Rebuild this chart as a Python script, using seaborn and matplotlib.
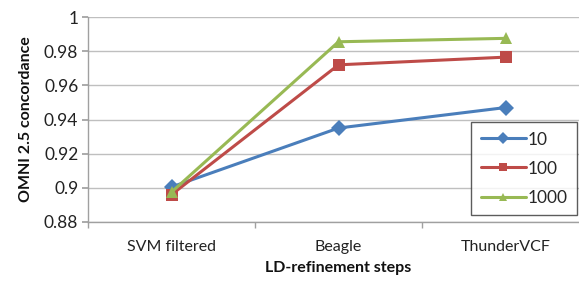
import matplotlib
matplotlib.use("Agg")
import matplotlib.pyplot as plt
import seaborn as sns
import pandas as pd
from matplotlib.ticker import FixedLocator

categories = ["SVM filtered", "Beagle", "ThunderVCF"]
series_names = ["10", "100", "1000"]
values_10 = [0.9005, 0.935, 0.947]
values_100 = [0.896, 0.972, 0.9765]
values_1000 = [0.8975, 0.9855, 0.9875]
y_ticks = [0.88, 0.90, 0.92, 0.94, 0.96, 0.98, 1.0]
y_tick_labels = ["0.88", "0.9", "0.92", "0.94", "0.96", "0.98", "1"]

rows = []
for name, vals in zip(series_names, [values_10, values_100, values_1000]):
    for c, v in zip(categories, vals):
        rows.append({"step": c, "value": v, "series": name})
df = pd.DataFrame(rows)

sns.set_theme(style="white")
plt.rcParams["font.family"] = ["Lato", "DejaVu Sans"]

fig = plt.figure(figsize=(5.79, 2.82), dpi=100)
ax = fig.add_axes([88 / 579, 1 - 222 / 282, (589 - 88) / 579, (222 - 17) / 282])

palette = {"10": "#4A7EBB", "100": "#BE4B48", "1000": "#98B954"}
markers = {"10": "D", "100": "s", "1000": "^"}
sns.lineplot(data=df, x="step", y="value", hue="series", style="series",
             palette=palette, markers=markers, dashes=False, linewidth=2.2,
             markersize=8, markeredgewidth=0, ax=ax, sort=False)

ax.set_xlim(-0.5, 2.5)
ax.set_ylim(0.88, 1.0)
ax.set_yticks(y_ticks)
ax.set_yticklabels(y_tick_labels, fontsize=12.5, color="#222222")
ax.yaxis.grid(True, color="#BFBFBF", linewidth=1)
ax.set_axisbelow(True)
ax.set_xticks([0, 1, 2])
ax.set_xticklabels(categories, fontsize=11.5, color="#222222")
ax.xaxis.set_minor_locator(FixedLocator([-0.5, 0.5, 1.5, 2.5]))
ax.tick_params(axis="x", which="major", length=0, pad=13)
ax.tick_params(axis="x", which="minor", length=4, color="#A0A0A0", direction="out", bottom=True)
ax.tick_params(axis="y", length=4, color="#A0A0A0", direction="out", left=True, pad=3)

for s in ["top", "right"]:
    ax.spines[s].set_visible(False)
for s in ["left", "bottom"]:
    ax.spines[s].set_color("#A0A0A0")
    ax.spines[s].set_linewidth(1)

ax.set_xlabel("LD-refinement steps", fontsize=11.5, fontweight="bold", labelpad=5, color="#111111")
ax.set_ylabel("OMNI 2.5 concordance", fontsize=11.5, fontweight="bold", labelpad=8, color="#111111")

handles, labels = ax.get_legend_handles_labels()
leg = ax.legend(handles, labels, loc="upper left", bbox_to_anchor=((471 - 88) / 501, 1 - (122 - 17) / 205),
                frameon=True, fancybox=False, edgecolor="#333333", fontsize=12.5,
                handlelength=2.6, handletextpad=0.1, borderpad=0.55, labelspacing=0.75,
                borderaxespad=0, markerscale=0.75)
leg.get_frame().set_linewidth(1)

fig.savefig("out.png", dpi=100)
